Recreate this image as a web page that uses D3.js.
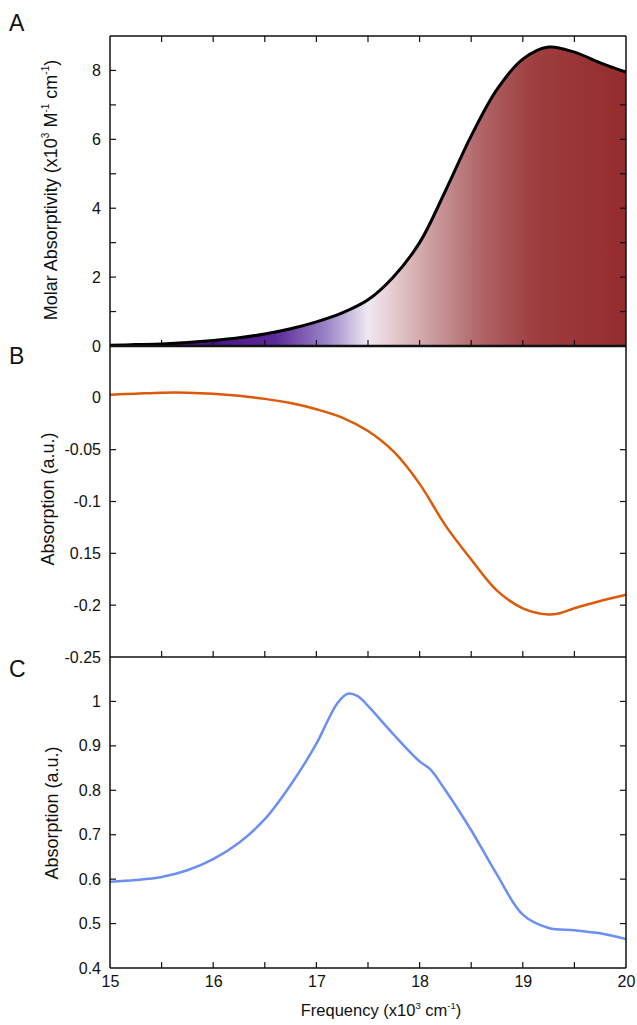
<!DOCTYPE html>
<html><head><meta charset="utf-8">
<script src="https://cdn.jsdelivr.net/npm/d3@7"></script>
<style>body{margin:0;background:#fff}svg{display:block}text{font-family:"Liberation Sans",Arial,sans-serif;fill:#111}</style>
</head><body><svg id="c" width="637" height="1025"></svg>
<script>
const freqA = [15.0,15.25,15.5,15.75,16.0,16.25,16.5,16.75,17.0,17.25,17.5,17.75,18.0,18.25,18.5,18.75,19.0,19.25,19.5,19.75,20.0];
const molarAbs = [0.02,0.04,0.06,0.10,0.16,0.24,0.35,0.50,0.70,0.96,1.34,2.02,3.0,4.5,6.1,7.45,8.33,8.68,8.53,8.22,7.95];
const freqB = [15.0,15.25,15.5,15.75,16.0,16.25,16.5,16.75,17.0,17.25,17.5,17.75,18.0,18.25,18.5,18.75,19.0,19.25,19.35,19.5,19.75,20.0];
const absB = [0.003,0.004,0.005,0.005,0.004,0.002,-0.001,-0.005,-0.011,-0.019,-0.032,-0.052,-0.083,-0.123,-0.156,-0.186,-0.203,-0.209,-0.208,-0.203,-0.196,-0.190];
const freqC = [15.0,15.25,15.5,15.75,16.0,16.25,16.5,16.75,17.0,17.1,17.2,17.3,17.4,17.5,17.75,18.0,18.1,18.25,18.5,18.75,19.0,19.25,19.5,19.75,20.0];
const absC = [0.594,0.598,0.605,0.62,0.645,0.682,0.735,0.812,0.905,0.952,0.995,1.017,1.012,0.99,0.925,0.865,0.848,0.80,0.71,0.61,0.52,0.49,0.485,0.478,0.465];
const xTicks = [15,16,17,18,19,20];
const yTicksA = [0,2,4,6,8];
const yTicksB = [0,-0.05,-0.1,-0.15,-0.2,-0.25];
const yTickLabelsB = ["0","-0.05","-0.1","0.15","-0.2","-0.25"];
const yTicksC = [0.4,0.5,0.6,0.7,0.8,0.9,1];
const gradFreq = [15,16,16.6,17.1,17.5,17.8,18.2,18.6,19.1,20];
const gradCol = ["#3a0878","#4a148c","#5c2a99","#9c84c6","#efe8f3","#e2c4c6","#c79395","#b06466","#9e3e40","#952c2d"];

const svg = d3.select("#c");
const L=110,R=626;
const x = d3.scaleLinear().domain([15,20]).range([L,R]);
const yA = d3.scaleLinear().domain([0,9]).range([346,36]);
const yB = d3.scaleLinear().domain([-0.25,0.05]).range([657,346]);
const yC = d3.scaleLinear().domain([0.4,1.1]).range([968,657]);
const curve = d3.curveCatmullRom.alpha(0.5);

const defs = svg.append("defs");
const g = defs.append("linearGradient").attr("id","ga").attr("gradientUnits","userSpaceOnUse")
  .attr("x1",x(15)).attr("x2",x(20)).attr("y1",0).attr("y2",0);
gradFreq.forEach((f,i)=>g.append("stop").attr("offset",(f-15)/5).attr("stop-color",gradCol[i]));

const ptsA = freqA.map((f,i)=>[f,molarAbs[i]]);
svg.append("path").datum(ptsA)
  .attr("d",d3.area().x(d=>x(d[0])).y0(yA(0)).y1(d=>yA(d[1])).curve(curve))
  .attr("fill","url(#ga)");
svg.append("path").datum(ptsA)
  .attr("d",d3.line().x(d=>x(d[0])).y(d=>yA(d[1])).curve(curve))
  .attr("fill","none").attr("stroke","#000").attr("stroke-width",3);

const ptsB = freqB.map((f,i)=>[f,absB[i]]);
svg.append("path").datum(ptsB)
  .attr("d",d3.line().x(d=>x(d[0])).y(d=>yB(d[1])).curve(curve))
  .attr("fill","none").attr("stroke","#dd5a08").attr("stroke-width",2.5);
const ptsC = freqC.map((f,i)=>[f,absC[i]]);
svg.append("path").datum(ptsC)
  .attr("d",d3.line().x(d=>x(d[0])).y(d=>yC(d[1])).curve(curve))
  .attr("fill","none").attr("stroke","#6b8ff2").attr("stroke-width",2.5);

const stroke="#111";
function hline(y,w){svg.append("line").attr("x1",L).attr("x2",R).attr("y1",y).attr("y2",y).attr("stroke",stroke).attr("stroke-width",w);}
svg.append("line").attr("x1",L).attr("x2",L).attr("y1",36).attr("y2",968).attr("stroke",stroke).attr("stroke-width",1.5);
svg.append("line").attr("x1",R).attr("x2",R).attr("y1",36).attr("y2",968).attr("stroke",stroke).attr("stroke-width",1.5);
hline(36,1.5); hline(346,2.5); hline(657,1.5); hline(968,1.5);

const xt = d3.range(15.5,20,0.5);
[[346,-1],[657,-1],[968,-1],[36,1]].forEach(([y,dir])=>{
  svg.append("g").selectAll("line").data(xt).join("line")
   .attr("x1",d=>x(d)).attr("x2",d=>x(d)).attr("y1",y).attr("y2",y+dir*6)
   .attr("stroke",stroke).attr("stroke-width",1.2);
});
const xa = svg.append("g").attr("transform","translate(0,968)")
  .call(d3.axisBottom(x).tickValues(xTicks).tickFormat(d3.format("d")).tickSize(0).tickPadding(8));
xa.select(".domain").remove();
xa.selectAll("text").attr("font-size",16).attr("font-family","Liberation Sans, Arial, sans-serif").attr("fill","#111");

function yaxis(scale,ticks,labels,minor){
  const ax = svg.append("g").attr("transform",`translate(${L},0)`)
   .call(d3.axisLeft(scale).tickValues(ticks).tickFormat((d,i)=>labels?labels[i]:d3.format("")(d)).tickSize(0).tickPadding(9));
  ax.select(".domain").remove();
  ax.selectAll("text").attr("font-size",16).attr("font-family","Liberation Sans, Arial, sans-serif").attr("fill","#111");
  const tv = minor||ticks;
  svg.append("g").selectAll("line").data(tv).join("line")
   .attr("x1",L).attr("x2",L+6).attr("y1",d=>scale(d)).attr("y2",d=>scale(d)).attr("stroke",stroke).attr("stroke-width",1.2);
  svg.append("g").selectAll("line").data(tv).join("line")
   .attr("x1",R).attr("x2",R-6).attr("y1",d=>scale(d)).attr("y2",d=>scale(d)).attr("stroke",stroke).attr("stroke-width",1.2);
}
yaxis(yA,yTicksA,null,d3.range(1,9,1));
yaxis(yB,yTicksB,yTickLabelsB,[-0.05,-0.1,-0.15,-0.2]);
yaxis(yC,yTicksC,null,[0.5,0.6,0.7,0.8,0.9,1]);

[["A",22],["B",355],["C",668]].forEach(([t,y])=>svg.append("text").attr("x",9).attr("y",y+9).attr("font-size",23).text(t));

function ytitle(cx,cy,parts){
  const t = svg.append("text").attr("transform",`translate(${cx},${cy}) rotate(-90)`).attr("text-anchor","middle").attr("font-size",18);
  parts.forEach(p=>{
    const s=t.append("tspan").text(p[0]);
    if(p[1]==="sup") s.attr("font-size",10).attr("dy",-8);
    if(p[1]==="down") s.attr("dy",8);
  });
}
ytitle(57,190,[["Molar Absorptivity (x10"],["3","sup"],[" M","down"],["-1","sup"],[" cm","down"],["-1","sup"],[")","down"]]);
ytitle(54,499,[["Absorption (a.u.)"]]);
ytitle(58,813,[["Absorption (a.u.)"]]);

const xt2 = svg.append("text").attr("x",381).attr("y",1016).attr("text-anchor","middle").attr("font-size",16.5);
xt2.append("tspan").text("Frequency (x10");
xt2.append("tspan").text("3").attr("font-size",9.5).attr("dy",-7);
xt2.append("tspan").text(" cm").attr("dy",7);
xt2.append("tspan").text("-1").attr("font-size",9.5).attr("dy",-7);
xt2.append("tspan").text(")").attr("dy",7);
</script></body></html>
